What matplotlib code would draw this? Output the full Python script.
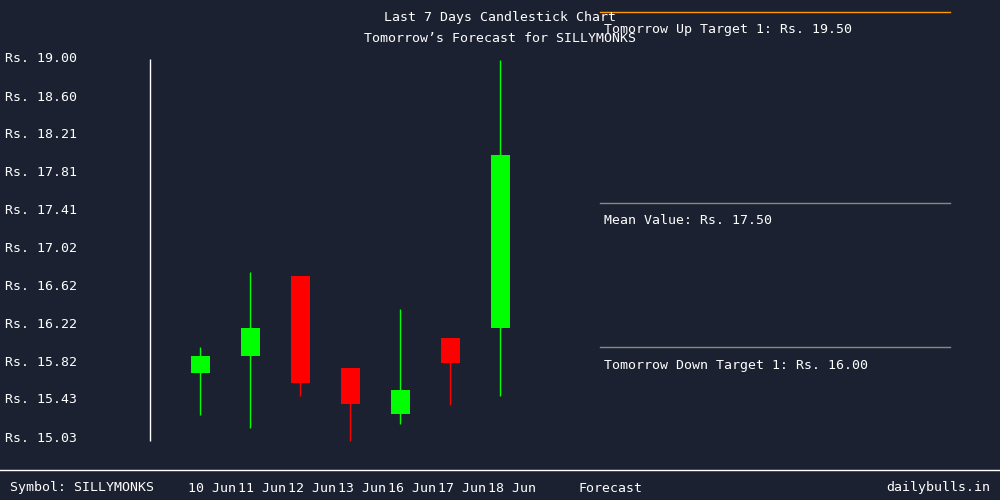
import matplotlib
matplotlib.use("Agg")
import matplotlib.pyplot as plt

dates = ["10 Jun", "11 Jun", "12 Jun", "13 Jun", "16 Jun", "17 Jun", "18 Jun"]
opens = [15.71, 15.89, 16.73, 15.76, 15.28, 16.08, 16.18]
closes = [15.89, 16.18, 15.61, 15.39, 15.53, 15.82, 17.99]
highs = [15.98, 16.77, 16.73, 15.76, 16.38, 16.08, 18.99]
lows = [15.27, 15.13, 15.47, 15.00, 15.18, 15.38, 15.47]
yticks = [15.03, 15.43, 15.82, 16.22, 16.62, 17.02, 17.41, 17.81, 18.21, 18.60, 19.00]
up_target = 19.50
mean_value = 17.50
down_target = 16.00
symbol = "SILLYMONKS"

BG = "#1b2130"
MONO = "DejaVu Sans Mono"
W, H = 1000, 500
fig = plt.figure(figsize=(10, 5), dpi=100, facecolor=BG)
ax = fig.add_axes([0, 0, 1, 1])
ax.set_facecolor(BG)
ax.axis("off")
ppu = (438 - 59) / (19.00 - 15.03)
ax.set_ylim(15.03 - 62 / ppu, 15.03 + 438 / ppu)
ax.set_xlim(-4, 16)

for i in range(len(dates)):
    c = "#00ff00" if closes[i] >= opens[i] else "#ff0000"
    ax.vlines(i, lows[i], highs[i], color=c, lw=1)
    lo, hi = min(opens[i], closes[i]), max(opens[i], closes[i])
    ax.bar(i, hi - lo, bottom=lo, width=0.38, color=c)
    fig.text((200 + 50 * i + 12) / W, 1 - 488 / H, dates[i], color="white",
             fontsize=9.5, family=MONO, ha="center", va="center")

ax.vlines(-1, 15.0, 19.0, color="white", lw=1)
for v in yticks:
    ax.text(-3.9, v, f"Rs. {v:.2f}", color="white", fontsize=9.5, family=MONO, va="center")

fig.text(0.5, 1 - 18 / H, "Last 7 Days Candlestick Chart", color="white", fontsize=9.5, family=MONO, ha="center", va="center")
fig.text(0.5, 1 - 38 / H, f"Tomorrow\u2019s Forecast for {symbol}", color="white", fontsize=9.5, family=MONO, ha="center", va="center")

for y, col, label in [(12, "#ff9900", f"Tomorrow Up Target 1: Rs. {up_target:.2f}"),
                      (203, "#888888", f"Mean Value: Rs. {mean_value:.2f}"),
                      (347, "#888888", f"Tomorrow Down Target 1: Rs. {down_target:.2f}")]:
    fig.add_artist(plt.Line2D([0.6, 0.95], [1 - y / H, 1 - y / H], color=col, lw=1))
    fig.text(604 / W, 1 - (y + 18) / H, label, color="white", fontsize=9.5, family=MONO, va="center")

fig.add_artist(plt.Line2D([0, 1], [1 - 470 / H, 1 - 470 / H], color="white", lw=1))
fig.text(10 / W, 1 - 488 / H, f"Symbol: {symbol}", color="white", fontsize=9.5, family=MONO, va="center")
fig.text(611 / W, 1 - 488 / H, "Forecast", color="white", fontsize=9.5, family=MONO, ha="center", va="center")
fig.text(990 / W, 1 - 488 / H, "dailybulls.in", color="white", fontsize=9.5, family=MONO, ha="right", va="center")

fig.savefig("out.png", dpi=100, facecolor=BG)
